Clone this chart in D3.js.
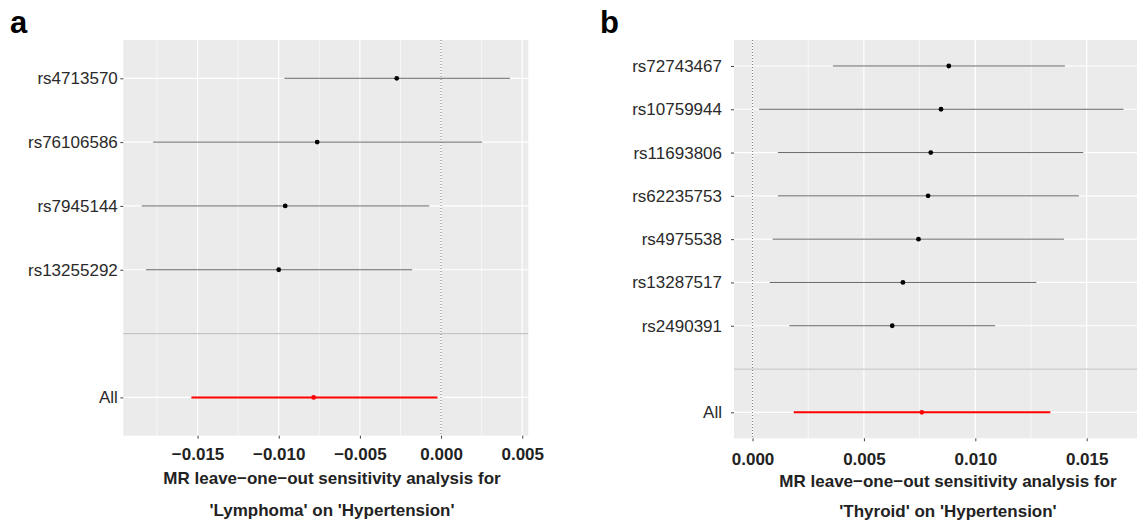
<!DOCTYPE html>
<html>
<head>
<meta charset="utf-8">
<script src="https://cdn.jsdelivr.net/npm/d3@7"></script>
<style>
  body { margin: 0; background: #fff; }
  svg { display: block; font-family: "Liberation Sans", Arial, sans-serif; }
</style>
</head>
<body>
<svg width="1137" height="522"></svg>
<script>
// panel a: Lymphoma on Hypertension
var snpA  = ["rs4713570", "rs76106586", "rs7945144", "rs13255292", "All"];
var betaA = [-0.00273, -0.00763, -0.0096, -0.0100, -0.00785];
var loA   = [-0.00965, -0.01774, -0.01844, -0.01818, -0.01538];
var hiA   = [0.00424, 0.00253, -0.00073, -0.00178, -0.00022];
var ticksA = [-0.015, -0.010, -0.005, 0.000, 0.005];

// panel b: Thyroid on Hypertension
var snpB  = ["rs72743467", "rs10759944", "rs11693806", "rs62235753", "rs4975538", "rs13287517", "rs2490391", "All"];
var betaB = [0.00881, 0.00846, 0.00800, 0.00788, 0.00745, 0.00675, 0.00627, 0.0076];
var loB   = [0.00361, 0.00029, 0.00114, 0.00114, 0.0009, 0.00077, 0.00165, 0.00185];
var hiB   = [0.01402, 0.01665, 0.01485, 0.01465, 0.01398, 0.01274, 0.01089, 0.01337];
var ticksB = [0.000, 0.005, 0.010, 0.015];

var svg = d3.select("svg");

function panel(o) {
	var g = svg.append("g");
	var rows = o.snp.slice(0, -1).concat(["", "All"]);
	var ext = d3.extent(o.lo.concat(o.hi, [0]));
	var pad = (ext[1] - ext[0]) * 0.05;
	var x = d3.scaleLinear().domain([ext[0] - pad, ext[1] + pad]).range([o.left, o.right]);
	var y = d3.scalePoint().domain(rows).range([o.top, o.bottom]).padding(0.6);
	var dom = x.domain();

	g.append("rect").attr("x", o.left).attr("y", o.top)
		.attr("width", o.right - o.left).attr("height", o.bottom - o.top)
		.attr("fill", "#ebebeb");

	// minor grid between major ticks
	var step = o.ticks[1] - o.ticks[0];
	var minor = [o.ticks[0] - step / 2].concat(o.ticks.map(function(t){ return t + step / 2; }))
		.filter(function(t){ return t > dom[0] && t < dom[1]; });
	g.selectAll(".minor").data(minor).enter().append("line")
		.attr("x1", function(d){ return x(d); }).attr("x2", function(d){ return x(d); })
		.attr("y1", o.top).attr("y2", o.bottom)
		.attr("stroke", "#fff").attr("stroke-width", 0.6);
	g.selectAll(".major").data(o.ticks).enter().append("line")
		.attr("x1", function(d){ return x(d); }).attr("x2", function(d){ return x(d); })
		.attr("y1", o.top).attr("y2", o.bottom)
		.attr("stroke", "#fff").attr("stroke-width", 1.2);
	g.selectAll(".hgrid").data(rows).enter().append("line")
		.attr("x1", o.left).attr("x2", o.right)
		.attr("y1", function(d){ return y(d); }).attr("y2", function(d){ return y(d); })
		.attr("stroke", "#fff").attr("stroke-width", 1.2);

	// separator at the blank row
	g.append("line").attr("x1", o.left).attr("x2", o.right)
		.attr("y1", y("")).attr("y2", y(""))
		.attr("stroke", "#c4c4c4").attr("stroke-width", 1.2);

	// zero line
	g.append("line").attr("x1", x(0)).attr("x2", x(0))
		.attr("y1", o.top).attr("y2", o.bottom)
		.attr("stroke", "#555").attr("stroke-width", 0.8).attr("stroke-dasharray", "1,2");

	var data = o.snp.map(function(s, i){ return {snp: s, b: o.beta[i], lo: o.lo[i], hi: o.hi[i]}; });
	g.selectAll(".ci").data(data).enter().append("line")
		.attr("x1", function(d){ return x(d.lo); }).attr("x2", function(d){ return x(d.hi); })
		.attr("y1", function(d){ return y(d.snp); }).attr("y2", function(d){ return y(d.snp); })
		.attr("stroke", function(d){ return d.snp == "All" ? "#ff0000" : "#666"; })
		.attr("stroke-width", function(d){ return d.snp == "All" ? 2 : 1; });
	g.selectAll(".pt").data(data).enter().append("circle")
		.attr("cx", function(d){ return x(d.b); }).attr("cy", function(d){ return y(d.snp); })
		.attr("r", 2.4)
		.attr("fill", function(d){ return d.snp == "All" ? "#ff0000" : "#000"; });

	// axes
	var xa = g.append("g").attr("transform", "translate(0," + o.bottom + ")")
		.call(d3.axisBottom(x).tickValues(o.ticks).tickSize(3).tickPadding(o.xpad).tickFormat(d3.format(".3f")));
	xa.select(".domain").remove();
	xa.selectAll("line").attr("stroke", "#444");
	xa.selectAll("text").attr("font-size", "17px").attr("font-weight", "bold").attr("fill", "#222")
		.attr("font-family", "Liberation Sans, Arial, sans-serif");

	var ya = g.append("g").attr("transform", "translate(" + o.left + ",0)")
		.call(d3.axisLeft(y).tickValues(rows.filter(function(r){ return r != ""; })).tickSize(3).tickPadding(o.ypad));
	ya.select(".domain").remove();
	ya.selectAll("line").attr("stroke", "#444");
	ya.selectAll("text").attr("font-size", "17px").attr("fill", "#2a2a2a")
		.attr("font-family", "Liberation Sans, Arial, sans-serif");

	// title below
	var t = svg.append("text").attr("text-anchor", "middle").attr("font-size", "17px")
		.attr("font-weight", "bold").attr("fill", "#222");
	t.append("tspan").attr("x", o.tx).attr("y", o.ty).text("MR leave\u2212one\u2212out sensitivity analysis for");
	t.append("tspan").attr("x", o.tx).attr("y", o.ty + o.gap).text(o.title2);

	svg.append("text").attr("x", o.lx).attr("y", 33).attr("font-size", "31px")
		.attr("font-weight", "bold").attr("fill", "#000").text(o.label);
}

panel({snp: snpA, beta: betaA, lo: loA, hi: hiA, ticks: ticksA,
	left: 123.3, right: 528.3, top: 40, bottom: 435.7, xpad: 9.5, ypad: 2.5,
	tx: 332, ty: 484, gap: 32, title2: "'Lymphoma' on 'Hypertension'", label: "a", lx: 10});
panel({snp: snpB, beta: betaB, lo: loB, hi: hiB, ticks: ticksB,
	left: 734, right: 1142, top: 40, bottom: 438.3, xpad: 11.5, ypad: 9,
	tx: 948, ty: 487, gap: 30, title2: "'Thyroid' on 'Hypertension'", label: "b", lx: 600});
</script>
</body>
</html>
